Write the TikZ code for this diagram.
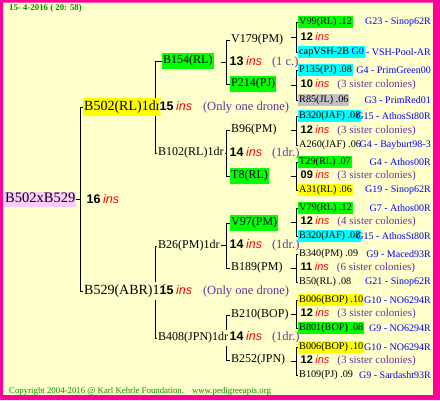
\documentclass[tikz,border=0pt]{standalone}
\usepackage{fontspec}
\setmainfont{Liberation Serif}
\setsansfont{Liberation Sans}
\usetikzlibrary{backgrounds}

\definecolor{paper}{HTML}{FFFFCC}
\definecolor{framepink}{HTML}{FF0099}
\definecolor{hlyellow}{HTML}{FFFF00}
\definecolor{hlgreen}{HTML}{00FF00}
\definecolor{hlcyan}{HTML}{00FFFF}
\definecolor{hlgray}{HTML}{C0C0C0}
\definecolor{hlpink}{HTML}{FFCCFF}
\definecolor{insred}{HTML}{FF0000}
\definecolor{lineblue}{HTML}{0000FF}
\definecolor{notepurple}{HTML}{663399}
\definecolor{stampgreen}{HTML}{009000}

\newcommand{\insno}[1]{{\sffamily\bfseries #1}\hspace{2.5pt}{\sffamily\itshape\color{insred}ins}}
\newcommand{\insnote}[1]{{\color{notepurple}#1}}

\tikzset{
  every node/.style={anchor=west, inner xsep=1pt, fill=paper},
  rootname/.style={font=\fontsize{14.5}{14.5}\selectfont, fill=hlpink, text height=10pt, text depth=3pt, inner ysep=1pt},
  sirename/.style={font=\fontsize{14}{14}\selectfont, text height=10pt, text depth=3.5pt, inner ysep=2pt},
  queenname/.style={font=\fontsize{12}{12}\selectfont, text height=8.5pt, text depth=3pt, inner ysep=2.2pt},
  leafname/.style={font=\fontsize{10.2}{10.2}\selectfont, text height=7.5pt, text depth=2.5pt, inner ysep=1pt},
  lineage/.style={anchor=east, fill=none, text=lineblue, font=\fontsize{10}{10}\selectfont},
  inscount/.style={inner sep=0.5pt, font=\fontsize{12.5}{12.5}\selectfont},
  insleaf/.style={inner sep=0.5pt, font=\fontsize{11}{11}\selectfont},
  stamp/.style={fill=none, text=stampgreen, font=\fontsize{8.8}{8.8}\selectfont},
  linkline/.style={line width=1pt},
}

\begin{document}
\begin{tikzpicture}[x=1pt, y=-1pt]
\useasboundingbox (0,0) rectangle (440,400);
\begin{scope}[on background layer]
\fill[paper] (0,0) rectangle (440,400);
\end{scope}

% generation columns
\coordinate (barA) at (80,0);
\coordinate (barB) at (155,0);
\coordinate (barC) at (226,0);
\coordinate (barD) at (296,0);

\node[stamp] (date) at (8,8.5) {\bfseries 15- 4-2016 ( 20: 58)};

% root and drone sires
\node[rootname] (root) at (4,199) {B502xB529};
\node[inscount] (n16) at (86,199) {\insno{16}};
\node[sirename, fill=hlyellow] (b502) at (83,107) {B502(RL)1dr};
\node[sirename] (b529) at (83,291) {B529(ABR)1dr};
\node[inscount] (n15a) at (159,107) {\insno{15}\hspace{11pt}\insnote{(Only one drone)}};
\node[inscount] (n15b) at (159,291) {\insno{15}\hspace{11pt}\insnote{(Only one drone)}};

% second generation
\node[queenname, fill=hlgreen] (b154) at (162,61) {B154(RL)};
\node[queenname] (b102) at (157,153) {B102(RL)1dr};
\node[queenname] (b26) at (157,246) {B26(PM)1dr};
\node[queenname] (b408) at (157,338) {B408(JPN)1dr};
\node[inscount] (n13) at (229,62) {\insno{13}\hspace{10pt}\insnote{(1 c.)}};
\node[inscount] (n14a) at (229,153) {\insno{14}\hspace{10pt}\insnote{(1dr.)}};
\node[inscount] (n14b) at (229,245.5) {\insno{14}\hspace{10pt}\insnote{(1dr.)}};
\node[inscount] (n14c) at (229,337.5) {\insno{14}\hspace{10pt}\insnote{(1dr.)}};

% third generation
\node[queenname] (v179) at (230,40) {V179(PM)};
\node[queenname, fill=hlgreen] (p214) at (230,84) {P214(PJ)};
\node[queenname] (b96) at (230,130) {B96(PM)};
\node[queenname, fill=hlgreen] (t8) at (230,176) {T8(RL)};
\node[queenname, fill=hlgreen] (v97) at (230,223) {V97(PM)};
\node[queenname] (b189) at (230,268) {B189(PM)};
\node[queenname] (b210) at (230,315) {B210(BOP)};
\node[queenname] (b252) at (230,360) {B252(JPN)};
\node[insleaf] (n12a) at (300,37) {\insno{12}};
\node[insleaf] (n10) at (300,85) {\insno{10}\hspace{8pt}\insnote{(3 sister colonies)}};
\node[insleaf] (n12b) at (300,130.5) {\insno{12}\hspace{8pt}\insnote{(3 sister colonies)}};
\node[insleaf] (n09) at (300,176) {\insno{09}\hspace{8pt}\insnote{(3 sister colonies)}};
\node[insleaf] (n12c) at (300,222) {\insno{12}\hspace{8pt}\insnote{(4 sister colonies)}};
\node[insleaf] (n11) at (300,268) {\insno{11}\hspace{8pt}\insnote{(6 sister colonies)}};
\node[insleaf] (n12d) at (300,314) {\insno{12}\hspace{8pt}\insnote{(3 sister colonies)}};
\node[insleaf] (n12e) at (300,361) {\insno{12}\hspace{8pt}\insnote{(3 sister colonies)}};

% fourth generation
\node[leafname, fill=hlgreen] (v99) at (298,22) {V99(RL) .12};
\node[leafname, fill=hlcyan] (vsh) at (298,52) {capVSH-2B \textcolor{lineblue}{G0}};
\node[leafname, fill=hlcyan] (p135) at (298,70) {P135(PJ) .08};
\node[leafname, fill=hlgray] (r85) at (298,100) {R85(JL) .06};
\node[leafname, fill=hlcyan] (b320a) at (298,116) {B320(JAF) .08};
\node[leafname] (a260) at (298,145) {A260(JAF) .06};
\node[leafname, fill=hlgreen] (t29) at (298,162) {T29(RL) .07};
\node[leafname, fill=hlyellow] (a31) at (298,190) {A31(RL) .06};
\node[leafname, fill=hlgreen] (v79) at (298,208) {V79(RL) .12};
\node[leafname, fill=hlcyan] (b320b) at (298,236) {B320(JAF) .08};
\node[leafname] (b340) at (298,254) {B340(PM) .09};
\node[leafname] (b50) at (298,282) {B50(RL) .08};
\node[leafname, fill=hlyellow] (b006a) at (298,300) {B006(BOP) .10};
\node[leafname, fill=hlgreen] (b801) at (298,328) {B801(BOP) .08};
\node[leafname, fill=hlyellow] (b006b) at (298,347) {B006(BOP) .10};
\node[leafname] (b109) at (298,375) {B109(PJ) .09};

\node[lineage] (g23) at (432,22) {G23 - Sinop62R};
\node[lineage] (gvsh) at (432,52) {- VSH-Pool-AR};
\node[lineage] (gprg) at (432,70) {G4 - PrimGreen00};
\node[lineage] (gprr) at (432,100) {G3 - PrimRed01};
\node[lineage] (gas1) at (432,116) {G15 - AthosSt80R};
\node[lineage] (gbay) at (432,145) {G4 - Bayburt98-3};
\node[lineage] (gat1) at (432,162) {G4 - Athos00R};
\node[lineage] (gsi1) at (432,190) {G19 - Sinop62R};
\node[lineage] (gat2) at (432,208) {G7 - Athos00R};
\node[lineage] (gas2) at (432,236) {G15 - AthosSt80R};
\node[lineage] (gmac) at (432,254) {G9 - Maced93R};
\node[lineage] (gsi2) at (432,282) {G21 - Sinop62R};
\node[lineage] (gno1) at (432,300) {G10 - NO6294R};
\node[lineage] (gno2) at (432,328) {G9 - NO6294R};
\node[lineage] (gno3) at (432,347) {G10 - NO6294R};
\node[lineage] (gsar) at (432,375) {G9 - Sardasht93R};

\node[stamp] (copy) at (8,391) {Copyright 2004-2016 @ Karl Kehrle Foundation.\hspace{8pt}www.pedigreeapis.org};

% brackets
\begin{scope}[on background layer, linkline]
\draw (root.east) -- (root.east -| barA);
\draw (b502.west) -| (barA |- b529.west) -- (b529.west);
\draw (b154.west) -| (barB |- b102.west) -- (b102.west);
\draw (b26.west) -| (barB |- b408.west) -- (b408.west);
\draw (v179.west) -| (barC |- p214.west) -- (p214.west);
\draw (b96.west) -| (barC |- t8.west) -- (t8.west);
\draw (v97.west) -| (barC |- b189.west) -- (b189.west);
\draw (b210.west) -| (barC |- b252.west) -- (b252.west);
\foreach \m in {n13,n14a,n14b,n14c}
  \draw (barC |- \m.west) -- ++(-5,0);
\draw (v99.west) -| (barD |- vsh.west) -- (vsh.west);
\draw (p135.west) -| (barD |- r85.west) -- (r85.west);
\draw (b320a.west) -| (barD |- a260.west) -- (a260.west);
\draw (t29.west) -| (barD |- a31.west) -- (a31.west);
\draw (v79.west) -| (barD |- b320b.west) -- (b320b.west);
\draw (b340.west) -| (barD |- b50.west) -- (b50.west);
\draw (b006a.west) -| (barD |- b801.west) -- (b801.west);
\draw (b006b.west) -| (barD |- b109.west) -- (b109.west);
\foreach \m in {n12a,n10,n12b,n09,n12c,n11,n12d,n12e}
  \draw (barD |- \m.west) -- ++(-5,0);
\end{scope}

% frame
\fill[framepink] (0,0) rectangle (3,400) (0,0) rectangle (440,2.5)
  (433,0) rectangle (440,400) (0,395) rectangle (440,400);
\end{tikzpicture}
\end{document}
